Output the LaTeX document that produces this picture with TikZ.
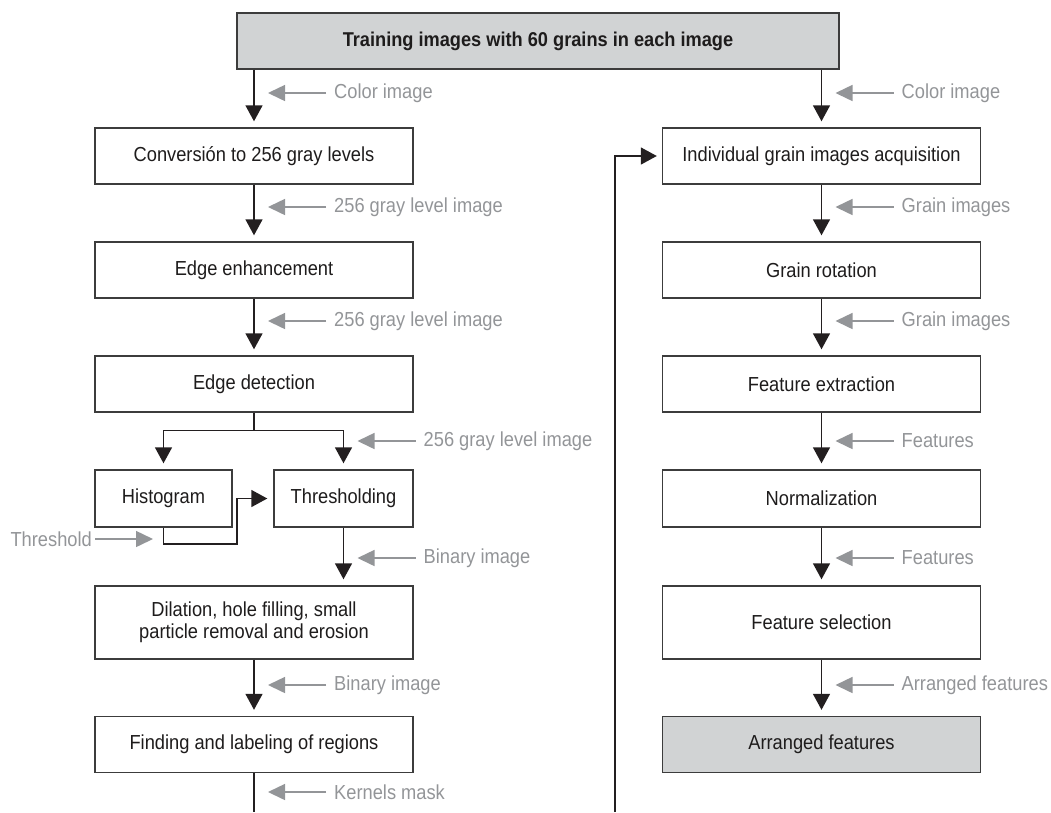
\documentclass[tikz,border=0pt]{standalone}
\usepackage{fontspec}
\setmainfont{Liberation Sans}[FakeStretch=0.9]
\newfontfamily\titlefont{Liberation Sans}[FakeStretch=0.91]
\usetikzlibrary{arrows.meta}
\definecolor{linec}{RGB}{35,31,32}
\definecolor{boxc}{RGB}{60,60,60}
\definecolor{grayc}{RGB}{147,149,152}
\definecolor{fillc}{RGB}{209,211,212}
\definecolor{textc}{RGB}{30,28,28}
\begin{document}
\begin{tikzpicture}[x=1pt,y=-1pt,
  every node/.style={font=\fontsize{20.3}{22}\selectfont},
  box/.style={draw=boxc, line width=1.4pt, fill=white, minimum width=318pt, minimum height=56pt, text=textc, align=center, inner sep=0pt},
  graybox/.style={box, fill=fillc},
  flow/.style={draw=linec, line width=1.5pt, -{Triangle[length=16pt,width=17pt]}, shorten >=6pt},
  plain/.style={draw=linec, line width=1.5pt},
  note/.style={draw=grayc, line width=1.5pt, -{Triangle[length=17pt,width=16pt]}},
  notelabel/.style={text=grayc, anchor=west, inner sep=0pt}
]
\useasboundingbox (0,0) rectangle (1051,812);

% boxes
\node[graybox, minimum width=602pt, font=\titlefont\bfseries\fontsize{20}{22}\selectfont] (top) at (538,41) {Training images with 60 grains in each image};

\node[box] (L1) at (254,156) {Conversi\'on to 256 gray levels};
\node[box] (L2) at (254,270) {Edge enhancement};
\node[box] (L3) at (254,384) {Edge detection};
\node[box, minimum width=137pt, minimum height=57pt] (H) at (163.5,498.5) {Histogram};
\node[box, minimum width=139pt, minimum height=57pt] (T) at (343.5,498.5) {Thresholding};
\node[box, minimum height=73pt] (L5) at (254,622.5) {Dilation, hole filling, small\\particle removal and erosion};
\node[box] (L6) at (254,744.5) {Finding and labeling of regions};

\node[box] (R1) at (821.5,156) {Individual grain images acquisition};
\node[box] (R2) at (821.5,270) {Grain rotation};
\node[box] (R3) at (821.5,384) {Feature extraction};
\node[box, minimum height=57pt] (R4) at (821.5,498.5) {Normalization};
\node[box, minimum height=73pt] (R5) at (821.5,622.5) {Feature selection};
\node[graybox] (R6) at (821.5,744.5) {Arranged features};

% left flow
\draw[flow] (top.south -| L1.north) -- (L1.north);
\draw[flow] (L1.south) -- (L2.north);
\draw[flow] (L2.south) -- (L3.north);
\draw[flow] (L3.south) -- ++(0,18) -| (H.north);
\draw[flow] (L3.south) -- ++(0,18) -| (T.north);
\coordinate (hb) at (237,544);
\draw[flow] (H.south) |- (hb) |- (T.west);
\draw[flow] (T.south) -- (T.south |- L5.north);
\draw[flow] (L5.south) -- (L6.north);
\coordinate (endL) at (254,812);
\draw[plain] (L6.south) -- (endL);

% right flow
\draw[flow] (top.south -| R1.north) -- (R1.north);
\draw[flow] (R1.south) -- (R2.north);
\draw[flow] (R2.south) -- (R3.north);
\draw[flow] (R3.south) -- (R4.north);
\draw[flow] (R4.south) -- (R5.north);
\draw[flow] (R5.south) -- (R6.north);

% feedback
\coordinate (endR) at (615,812);
\draw[flow, shorten >=5pt] (endR) |- (R1.west);

% gray notes, left
\node[notelabel] (n1) at (334,93) {Color image};
\draw[note] ([xshift=-8pt]n1.west) -- ++(-58,0);
\node[notelabel] (n2) at (334,207) {256 gray level image};
\draw[note] ([xshift=-8pt]n2.west) -- ++(-58,0);
\node[notelabel] (n3) at (334,321) {256 gray level image};
\draw[note] ([xshift=-8pt]n3.west) -- ++(-58,0);
\node[notelabel] (n4) at (423.5,441) {256 gray level image};
\draw[note] ([xshift=-8pt]n4.west) -- ++(-58,0);
\node[notelabel] (n5) at (423.5,558) {Binary image};
\draw[note] ([xshift=-8pt]n5.west) -- ++(-58,0);
\node[notelabel] (n6) at (334,685) {Binary image};
\draw[note] ([xshift=-8pt]n6.west) -- ++(-58,0);
\node[notelabel] (n7) at (334,792) {Kernels mask};
\draw[note] ([xshift=-8pt]n7.west) -- ++(-58,0);
\node[notelabel, anchor=east] (th) at (92,539) {Threshold};
\draw[note] ([xshift=3pt]th.east) -- ++(58,0);

% gray notes, right
\node[notelabel] (m1) at (901.5,93) {Color image};
\draw[note] ([xshift=-8pt]m1.west) -- ++(-58,0);
\node[notelabel] (m2) at (901.5,207) {Grain images};
\draw[note] ([xshift=-8pt]m2.west) -- ++(-58,0);
\node[notelabel] (m3) at (901.5,321) {Grain images};
\draw[note] ([xshift=-8pt]m3.west) -- ++(-58,0);
\node[notelabel] (m4) at (901.5,441) {Features};
\draw[note] ([xshift=-8pt]m4.west) -- ++(-58,0);
\node[notelabel] (m5) at (901.5,558) {Features};
\draw[note] ([xshift=-8pt]m5.west) -- ++(-58,0);
\node[notelabel] (m6) at (901.5,685) {Arranged features};
\draw[note] ([xshift=-8pt]m6.west) -- ++(-58,0);
\end{tikzpicture}
\end{document}
